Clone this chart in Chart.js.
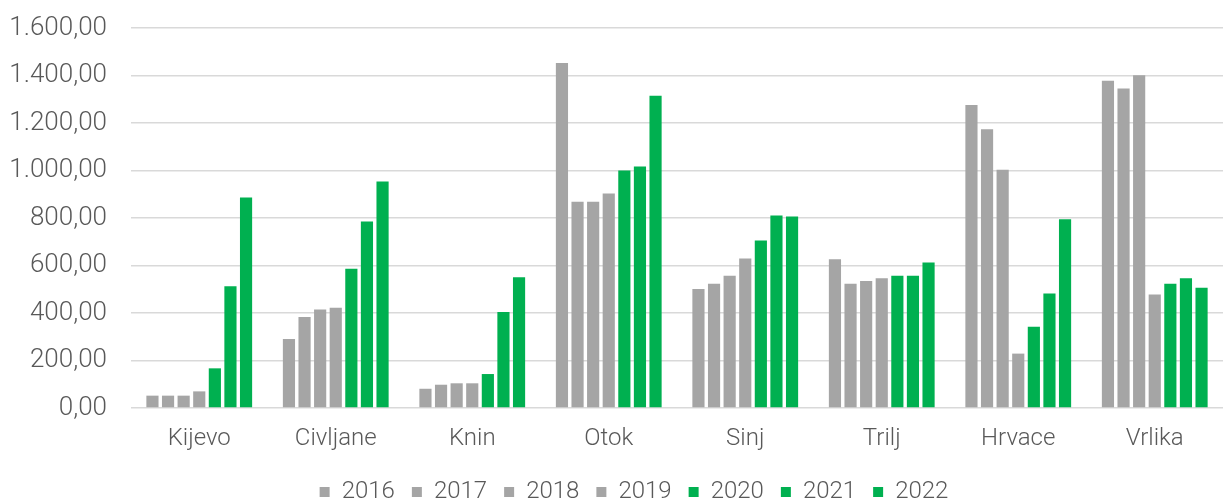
<!DOCTYPE html>
<html>
<head>
<meta charset="utf-8">
<script src="https://cdn.jsdelivr.net/npm/chart.js@4/dist/chart.umd.min.js"></script>
<style>
  html, body { margin: 0; padding: 0; background: #fff; }
  #wrap { width: 1223px; height: 501px; }
</style>
</head>
<body>
<div id="wrap"><canvas id="chart"></canvas></div>
<script>
// categories (municipalities)
const categories = ['Kijevo', 'Civljane', 'Knin', 'Otok', 'Sinj', 'Trilj', 'Hrvace', 'Vrlika'];
const years = ['2016', '2017', '2018', '2019', '2020', '2021', '2022'];

// values per year, one entry per category
const v2016 = [52, 291, 81, 1453, 501, 626, 1276, 1378];
const v2017 = [52, 383, 98, 868, 523, 523, 1174, 1345];
const v2018 = [52, 415, 104, 868, 557, 535, 1003, 1401];
const v2019 = [70, 422, 104, 903, 630, 546, 229, 478];
const v2020 = [167, 586, 143, 1000, 705, 557, 342, 523];
const v2021 = [513, 785, 404, 1017, 811, 557, 482, 546];
const v2022 = [886, 954, 551, 1315, 806, 613, 795, 506];

const yTicks = [0, 200, 400, 600, 800, 1000, 1200, 1400, 1600];

const GRAY = '#a5a5a5';
const GREEN = '#00b050';
const TEXT = '#595959';
const FONT = 'Roboto, "DejaVu Sans", sans-serif';

const series = [v2016, v2017, v2018, v2019, v2020, v2021, v2022];

// 1600 -> "1.600,00"
function fmt(value) {
    const parts = Math.round(value).toString().replace(/\B(?=(\d{3})+(?!\d))/g, '.');
    return parts + ',00';
}

const datasets = series.map((data, i) => ({
    label: years[i],
    data: data,
    backgroundColor: i < 4 ? GRAY : GREEN,
    borderWidth: 0,
    barPercentage: 0.78,
    categoryPercentage: 0.8
}));

// the left padding only shifts the legend; let y labels draw into it
const yLabelRoom = {
    id: 'yLabelRoom',
    afterLayout(chart) { chart.scales.y.left = 0; }
};

new Chart(document.getElementById('chart'), {
    type: 'bar',
    data: { labels: categories, datasets: datasets },
    plugins: [yLabelRoom],
    options: {
        responsive: true,
        maintainAspectRatio: false,
        animation: false,
        layout: { padding: { top: 28, right: 0, left: 45, bottom: -13 } },
        plugins: {
            tooltip: { enabled: false },
            legend: {
                position: 'bottom',
                labels: {
                    color: TEXT,
                    font: { family: FONT, size: 24, weight: '300' },
                    boxWidth: 10,
                    boxHeight: 10,
                    padding: 17
                }
            }
        },
        scales: {
            x: {
                grid: { display: false },
                border: { display: false },
                ticks: {
                    color: TEXT,
                    font: { family: FONT, size: 24, weight: '300' },
                    padding: 9
                },
                afterFit: axis => { axis.height = 55; }
            },
            y: {
                min: 0,
                max: 1600,
                afterBuildTicks: axis => { axis.ticks = yTicks.map(v => ({ value: v })); },
                grid: { color: '#d9d9d9', lineWidth: 1.5, drawTicks: false },
                border: { display: false },
                ticks: {
                    color: TEXT,
                    font: { family: FONT, size: 26, weight: '300' },
                    padding: 24,
                    callback: value => fmt(value)
                },
                afterFit: axis => {
                    axis.width = 86;
                    axis.paddingTop = 0;
                    axis.paddingBottom = 0;
                }
            }
        }
    }
});
</script>
</body>
</html>
